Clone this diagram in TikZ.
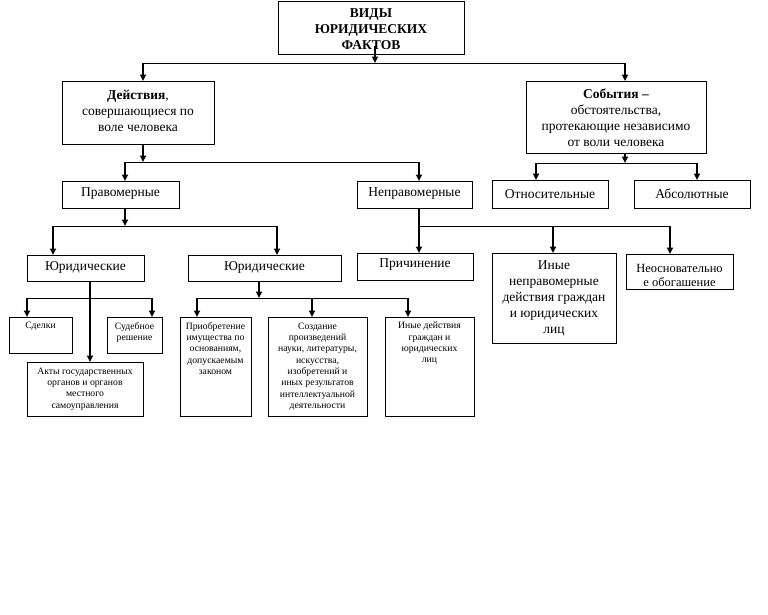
\documentclass[tikz,border=0pt]{standalone}
\usepackage{fontspec}
\setmainfont{Liberation Serif}
\usetikzlibrary{arrows.meta,calc}
\tikzset{
  box/.style={draw, line width=0.9pt, inner sep=0pt, outer sep=0pt},
  big/.style={font=\fontsize{13.5}{16}\selectfont, align=center, inner sep=0pt},
  mid/.style={font=\fontsize{12.5}{14}\selectfont, align=center, inner sep=0pt},
  small/.style={font=\fontsize{9.7}{11.3}\selectfont, align=center, inner sep=0pt},
  vline/.style={line width=1.7pt, -{Triangle[length=6.5pt,width=6pt]}},
  hline/.style={line width=1pt},
}
\newcommand{\mkbox}[5]{\node[box, minimum width={(#4-#2)*1pt}, minimum height={(#5-#3)*1pt}] (#1) at ({(#2+#4)/2},{(#3+#5)/2}) {};}
\begin{document}
\begin{tikzpicture}[x=1pt,y=-1pt]
\useasboundingbox[fill=white] (0,0) rectangle (768,614);
% boxes
\mkbox{top}{278}{1}{464}{54}
\mkbox{act}{62}{81}{214}{144}
\mkbox{ev}{526}{81}{706}{153}
\mkbox{prav}{62}{181}{179}{208}
\mkbox{neprav}{357}{181}{472}{208}
\mkbox{otn}{492}{180}{608}{208}
\mkbox{abs}{634}{180}{750}{208}
\mkbox{jurA}{27}{255}{144}{281}
\mkbox{jurB}{188}{255}{341}{281}
\mkbox{prich}{357}{253}{473}{280}
\mkbox{inye}{492}{253}{616}{343}
\mkbox{neosn}{626}{254}{733}{289}
\mkbox{sdelki}{9}{317}{72}{353}
\mkbox{sud}{107}{317}{162}{353}
\mkbox{akty}{27}{362}{143}{416}
\mkbox{priobr}{180}{317}{251}{416}
\mkbox{sozd}{268}{317}{367}{416}
\mkbox{inyed}{385}{317}{474}{416}
% texts
\node[big] (t-top) at (371,29.5) {\textbf{ВИДЫ}\\\textbf{ЮРИДИЧЕСКИХ}\\\textbf{ФАКТОВ}};
\node[big] (t-act) at (138,111) {\textbf{Действия},\\совершающиеся по\\воле человека};
\node[big] (t-ev) at (616,118) {\textbf{События –}\\обстоятельства,\\протекающие независимо\\от воли человека};
\node[big] (t-prav) at (120.5,194) {Правомерные};
\node[big] (t-neprav) at (414.5,194) {Неправомерные};
\node[big] (t-otn) at (550,194) {Относительные};
\node[big] (t-abs) at (692,194) {Абсолютные};
\node[big] (t-jurA) at (85.5,267) {Юридические};
\node[big] (t-jurB) at (264.5,267) {Юридические};
\node[big] (t-prich) at (415,265) {Причинение};
\node[big] (t-inye) at (554,298) {Иные\\неправомерные\\действия граждан\\и юридических\\лиц};
\begin{scope}
  \clip (626,254) rectangle (733,285.5);
  \node[mid, anchor=north] (t-neosn) at (679.5,264) {Неосновательно\\е обогащение};
\end{scope}
\node[small, anchor=north] (t-sdelki) at (40.5,322) {Сделки};
\node[small, anchor=north] (t-sud) at (134.5,322) {Судебное\\решение};
\node[small] (t-akty) at (85,389) {Акты государственных\\органов и органов\\местного\\самоуправления};
\node[small, anchor=north] (t-priobr) at (215.5,322) {Приобретение\\имущества по\\основаниям,\\допускаемым\\законом};
\node[small] (t-sozd) at (317.5,366.5) {Создание\\произведений\\науки, литературы,\\искусства,\\изобретений и\\иных результатов\\интеллектуальной\\деятельности};
\node[small, anchor=north] (t-inyed) at (429.5,322) {Иные действия\\граждан и\\юридических\\лиц};
% bus coordinates
\coordinate (b0s) at (375,63);
\coordinate (b0a) at (143,63);
\coordinate (b0b) at (625,63);
\coordinate (b1s) at (143,162);
\coordinate (b1a) at (125,162);
\coordinate (b1b) at (419,162);
\coordinate (b2s) at (625,163);
\coordinate (b2a) at (536,163);
\coordinate (b2b) at (697,163);
\coordinate (b3s) at (125,226);
\coordinate (b3a) at (53,226);
\coordinate (b3b) at (277,226);
\coordinate (b4s) at (419,226);
\coordinate (b4a) at (553,226);
\coordinate (b4b) at (670,226);
\coordinate (b5v) at (90,298);
\coordinate (b5a) at (27,298);
\coordinate (b5b) at (152,298);
\coordinate (b6s) at (259,298);
\coordinate (b6a) at (197,298);
\coordinate (b6m) at (312,298);
\coordinate (b6b) at (408,298);
% level 0
\draw[vline] ($(top.south -| b0s)+(0,-8)$) -- (b0s);
\draw[hline] (b0a) -- (b0b);
\draw[vline] (b0a) -- (b0a |- act.north);
\draw[vline] (b0b) -- (b0b |- ev.north);
% actions
\draw[vline] (act.south -| b1s) -- (b1s);
\draw[hline] (b1a) -- (b1b);
\draw[vline] (b1a) -- (b1a |- prav.north);
\draw[vline] (b1b) -- (b1b |- neprav.north);
% events
\draw[vline] (ev.south -| b2s) -- (b2s);
\draw[hline] (b2a) -- (b2b);
\draw[vline] (b2a) -- (b2a |- otn.north);
\draw[vline] (b2b) -- (b2b |- abs.north);
% lawful
\draw[vline] (prav.south -| b3s) -- (b3s);
\draw[hline] (b3a) -- (b3b);
\draw[vline] (b3a) -- (b3a |- jurA.north);
\draw[vline] (b3b) -- (b3b |- jurB.north);
% unlawful
\draw[vline] (neprav.south -| b4s) -- (b4s |- prich.north);
\draw[hline] (b4s) -- (b4b);
\draw[vline] (b4a) -- (b4a |- inye.north);
\draw[vline] (b4b) -- (b4b |- neosn.north);
% juridical acts
\draw[vline] (jurA.south -| b5v) -- (b5v |- akty.north);
\draw[hline] (b5a) -- (b5b);
\draw[vline] (b5a) -- (b5a |- sdelki.north);
\draw[vline] (b5b) -- (b5b |- sud.north);
% juridical deeds
\draw[vline] (jurB.south -| b6s) -- (b6s);
\draw[hline] (b6a) -- (b6b);
\draw[vline] (b6a) -- (b6a |- priobr.north);
\draw[vline] (b6m) -- (b6m |- sozd.north);
\draw[vline] (b6b) -- (b6b |- inyed.north);
\end{tikzpicture}
\end{document}
